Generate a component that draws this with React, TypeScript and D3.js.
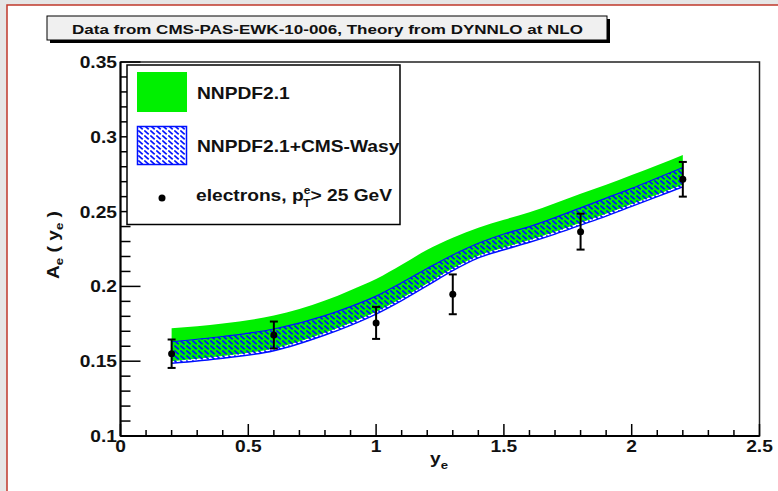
import { useRef, useEffect } from 'react'
import * as d3 from 'd3'

// theory bands, sampled along the rapidity axis
const bandX = [0.2, 0.4, 0.6, 0.8, 0.9, 1.0, 1.1, 1.2, 1.3, 1.4, 1.5, 1.6, 1.7, 1.8, 1.9, 2.0, 2.1, 2.2]
const nnpdfHigh = [0.172, 0.1752, 0.1805, 0.1905, 0.1975, 0.205, 0.2145, 0.2245, 0.2325, 0.2392, 0.2445, 0.2495, 0.2555, 0.262, 0.268, 0.2745, 0.281, 0.2878]
const nnpdfLow = [0.15, 0.1535, 0.1585, 0.169, 0.1755, 0.183, 0.192, 0.202, 0.212, 0.2205, 0.226, 0.231, 0.2365, 0.2425, 0.2485, 0.255, 0.2615, 0.268]
const wasyHigh = [0.163, 0.1665, 0.1715, 0.1805, 0.1865, 0.1935, 0.2025, 0.212, 0.221, 0.2288, 0.235, 0.24, 0.246, 0.2525, 0.259, 0.2655, 0.2725, 0.2795]
const wasyLow = [0.1486, 0.152, 0.157, 0.1675, 0.174, 0.1815, 0.1905, 0.2005, 0.2105, 0.219, 0.2245, 0.2295, 0.235, 0.241, 0.247, 0.2535, 0.26, 0.2665]

// CMS electron asymmetry
const dataX = [0.2, 0.6, 1.0, 1.3, 1.8, 2.2]
const dataY = [0.155, 0.1675, 0.1756, 0.1947, 0.2366, 0.2716]
const dataErr = [0.0095, 0.009, 0.0107, 0.0133, 0.012, 0.0116]

const xTicks = [0, 0.5, 1, 1.5, 2, 2.5]
const xTickLabels = ['0', '0.5', '1', '1.5', '2', '2.5']
const yTicks = [0.1, 0.15, 0.2, 0.25, 0.3, 0.35]
const yTickLabels = ['0.1', '0.15', '0.2', '0.25', '0.3', '0.35']

const FONT = "'Liberation Sans', Arial, Helvetica, sans-serif"
const SX = 1.2 // the original image is stretched horizontally

export default function App() {
  const svgRef = useRef<SVGSVGElement | null>(null)

  useEffect(() => {
    const svg = svgRef.current
    if (!svg) return
    const W = 778
    const H = 491
    const sel = d3.select(svg)
    sel.selectAll('*').remove()
    sel.attr('width', W).attr('height', H)

    const x = d3.scaleLinear().domain([0, 2.5]).range([120.5, 759.5])
    const y = d3.scaleLinear().domain([0.1, 0.35]).range([436, 62])

    // stretched bold text helper
    const label = (g: any, px: number, py: number, size: number, anchor = 'start') =>
      g.append('text')
        .attr('transform', `translate(${px},${py}) scale(${SX},1)`)
        .attr('text-anchor', anchor)
        .attr('font-family', FONT).attr('font-weight', 'bold')
        .attr('font-size', size).attr('fill', '#111')

    // page background + red canvas border
    sel.append('rect').attr('width', W).attr('height', H).attr('fill', '#e6e6e6')
    sel.append('rect').attr('x', 7).attr('y', 5).attr('width', 900).attr('height', 600)
      .attr('fill', '#fff').attr('stroke', '#c0392b').attr('stroke-width', 1.5)

    const defs = sel.append('defs')
    const pat = defs.append('pattern').attr('id', 'hatch')
      .attr('patternUnits', 'userSpaceOnUse').attr('width', 6).attr('height', 5)
    pat.append('path').attr('d', 'M0.3,0.5 L4.7,4.3').attr('stroke', '#0010ff').attr('stroke-width', 1.7)

    // title box
    sel.append('rect').attr('x', 50).attr('y', 19).attr('width', 560).attr('height', 24).attr('fill', '#000')
    sel.append('rect').attr('x', 47).attr('y', 16).attr('width', 560).attr('height', 24)
      .attr('fill', '#f0f0f0').attr('stroke', '#000').attr('stroke-width', 1)
    label(sel, 72, 34, 13.5)
      .attr('textLength', 511 / SX).attr('lengthAdjust', 'spacingAndGlyphs')
      .text('Data from CMS-PAS-EWK-10-006, Theory from DYNNLO at NLO')

    // bands
    const green = d3.area<number>()
      .x((_, i) => x(bandX[i]))
      .y0((_, i) => y(nnpdfLow[i]))
      .y1((_, i) => y(nnpdfHigh[i]))
      .curve(d3.curveMonotoneX)
    sel.append('path').attr('d', green(bandX)).attr('fill', '#00f000')

    const wasy = d3.area<number>()
      .x((_, i) => x(bandX[i]))
      .y0((_, i) => y(wasyLow[i]))
      .y1((_, i) => y(wasyHigh[i]))
      .curve(d3.curveMonotoneX)
    sel.append('path').attr('d', wasy(bandX)).attr('fill', 'url(#hatch)')
    const edge = d3.line<number>().x((_, i) => x(bandX[i])).curve(d3.curveMonotoneX)
    sel.append('path').attr('d', edge.y((_, i) => y(wasyHigh[i]))(bandX))
      .attr('fill', 'none').attr('stroke', '#0010ff').attr('stroke-width', 1.2)
    sel.append('path').attr('d', edge.y((_, i) => y(wasyLow[i]))(bandX))
      .attr('fill', 'none').attr('stroke', '#0010ff').attr('stroke-width', 1.4)

    // data points
    dataX.forEach((d, i) => {
      const cx = x(d)
      const top = y(dataY[i] + dataErr[i])
      const bot = y(dataY[i] - dataErr[i])
      sel.append('line').attr('x1', cx).attr('x2', cx).attr('y1', top).attr('y2', bot)
        .attr('stroke', '#000').attr('stroke-width', 2)
      ;[top, bot].forEach((yy) => {
        sel.append('line').attr('x1', cx - 4).attr('x2', cx + 4).attr('y1', yy).attr('y2', yy)
          .attr('stroke', '#000').attr('stroke-width', 2)
      })
      sel.append('circle').attr('cx', cx).attr('cy', y(dataY[i])).attr('r', 3.5).attr('fill', '#000')
    })

    // frame
    sel.append('rect').attr('x', 120.5).attr('y', 62).attr('width', 639).attr('height', 374)
      .attr('fill', 'none').attr('stroke', '#222').attr('stroke-width', 1.5)
    sel.append('line').attr('x1', 120.5).attr('x2', 759.5).attr('y1', 436).attr('y2', 436)
      .attr('stroke', '#000').attr('stroke-width', 2)
    sel.append('line').attr('x1', 120.5).attr('x2', 120.5).attr('y1', 62).attr('y2', 436)
      .attr('stroke', '#000').attr('stroke-width', 2)

    // x ticks
    x.ticks(25).forEach((t) => {
      const major = xTicks.some((m) => Math.abs(m - t) < 1e-9)
      sel.append('line').attr('x1', x(t)).attr('x2', x(t))
        .attr('y1', 436).attr('y2', 436 - (major ? 12 : 6))
        .attr('stroke', '#000').attr('stroke-width', 1.5)
    })
    xTicks.forEach((t, i) => {
      label(sel, x(t), 452, 16, 'middle').text(xTickLabels[i])
    })

    // y ticks
    y.ticks(25).forEach((t) => {
      const major = yTicks.some((m) => Math.abs(m - t) < 1e-9)
      sel.append('line').attr('x1', 120.5).attr('x2', 120.5 + (major ? 20 : 10))
        .attr('y1', y(t)).attr('y2', y(t))
        .attr('stroke', '#000').attr('stroke-width', 1.5)
    })
    yTicks.forEach((t, i) => {
      label(sel, 117, y(t) + 6, 16, 'end').text(yTickLabels[i])
    })

    // axis titles
    const xt = label(sel, 430, 464, 16)
    xt.append('tspan').text('y')
    xt.append('tspan').attr('font-size', 11).attr('dy', 5).text('e')

    const yt = sel.append('text')
      .attr('transform', `translate(59,279) rotate(-90) scale(${SX},1)`)
      .attr('font-family', FONT).attr('font-weight', 'bold')
      .attr('font-size', 16).attr('fill', '#111')
    yt.append('tspan').text('A')
    yt.append('tspan').attr('font-size', 11).attr('dy', 4).text('e')
    yt.append('tspan').attr('dy', -4).text(' ( y')
    yt.append('tspan').attr('font-size', 11).attr('dy', 4).text('e')
    yt.append('tspan').attr('dy', -4).text(' )')

    // legend
    sel.append('rect').attr('x', 127).attr('y', 65).attr('width', 273).attr('height', 159.5)
      .attr('fill', '#fff').attr('stroke', '#000').attr('stroke-width', 1.5)
    sel.append('rect').attr('x', 137).attr('y', 72).attr('width', 50).attr('height', 40).attr('fill', '#00f000')
    label(sel, 197, 99, 16).text('NNPDF2.1')
    sel.append('rect').attr('x', 137.5).attr('y', 126.5).attr('width', 49).attr('height', 38)
      .attr('fill', 'url(#hatch)').attr('stroke', '#0010ff').attr('stroke-width', 1.5)
    label(sel, 197, 152, 16).text('NNPDF2.1+CMS-Wasy')
    sel.append('circle').attr('cx', 162).attr('cy', 198).attr('r', 3.5).attr('fill', '#000')
    const el = label(sel, 196, 201, 16)
    el.append('tspan').text('electrons, p')
    el.append('tspan').attr('font-size', 10).attr('dy', -7).text('e')
    el.append('tspan').attr('font-size', 10).attr('dx', -6).attr('dy', 13).text('T')
    el.append('tspan').attr('dy', -6).text('> 25 GeV')
  }, [])

  return <svg ref={svgRef} style={{ position: 'absolute', left: 0, top: 0, display: 'block' }} />
}
